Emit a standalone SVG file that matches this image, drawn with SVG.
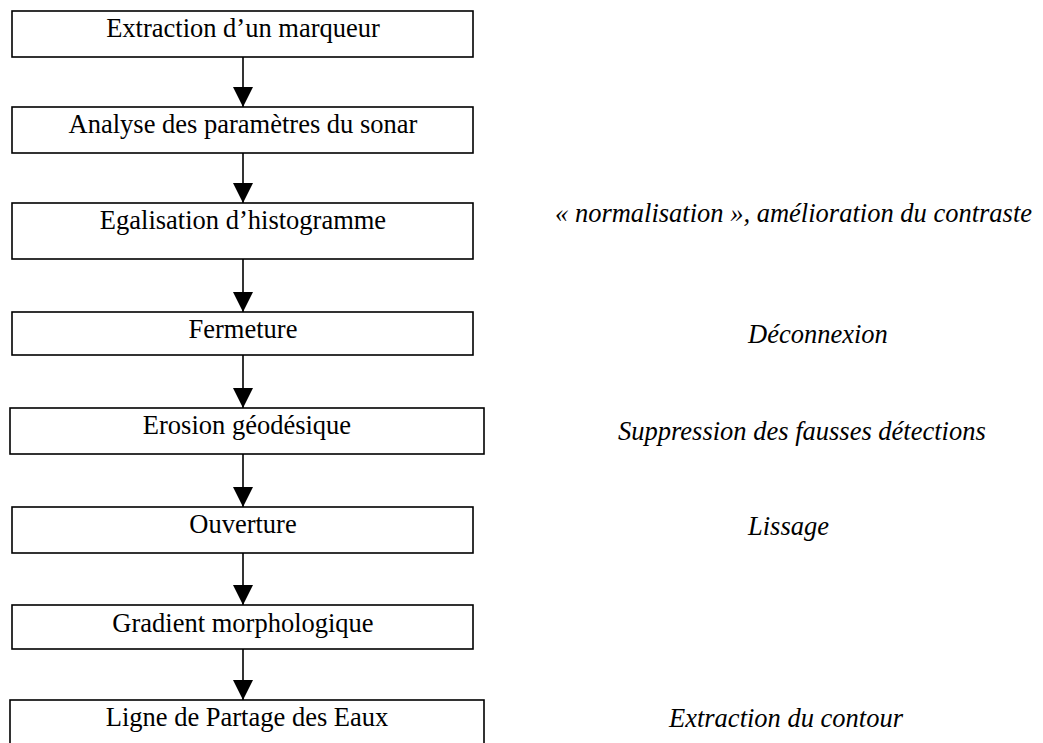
<svg xmlns="http://www.w3.org/2000/svg" width="1043" height="743" viewBox="0 0 1043 743">
<style>
.box{fill:#fff;stroke:#000;stroke-width:1.6}
.t{font-family:'Liberation Serif','Times New Roman',serif;font-size:26.5px;fill:#000;text-anchor:middle}
.n{font-family:'Liberation Serif','Times New Roman',serif;font-size:26.5px;font-style:italic;fill:#000}
.c{stroke:#000;stroke-width:1.6;fill:none}
</style>
<defs>
<marker id="ah" markerUnits="userSpaceOnUse" markerWidth="22" markerHeight="20" refX="20" refY="10" orient="auto">
<path d="M0,0 L20,10 L0,20 Z" fill="#000"/>
</marker>
</defs>
<rect width="1043" height="743" fill="#fff"/>
<g id="connectors">
<line class="c" x1="243" y1="57" x2="243" y2="107" marker-end="url(#ah)"/>
<line class="c" x1="243" y1="153" x2="243" y2="203" marker-end="url(#ah)"/>
<line class="c" x1="243" y1="259" x2="243" y2="312" marker-end="url(#ah)"/>
<line class="c" x1="243" y1="355" x2="243" y2="408" marker-end="url(#ah)"/>
<line class="c" x1="243" y1="454" x2="243" y2="507" marker-end="url(#ah)"/>
<line class="c" x1="243" y1="553" x2="243" y2="605" marker-end="url(#ah)"/>
<line class="c" x1="243" y1="646" x2="243" y2="700" marker-end="url(#ah)"/>
</g>
<g id="n1"><rect class="box" x="12" y="11" width="461" height="46"/><text class="t" x="243" y="37">Extraction d’un marqueur</text></g>
<g id="n2"><rect class="box" x="12" y="107" width="461" height="46"/><text class="t" x="243" y="133">Analyse des paramètres du sonar</text></g>
<g id="n3"><rect class="box" x="12" y="203" width="461" height="56"/><text class="t" x="243" y="229">Egalisation d’histogramme</text></g>
<g id="n4"><rect class="box" x="12" y="312" width="461" height="43"/><text class="t" x="243" y="338">Fermeture</text></g>
<g id="n5"><rect class="box" x="10" y="408" width="474" height="46"/><text class="t" x="247" y="434">Erosion géodésique</text></g>
<g id="n6"><rect class="box" x="12" y="507" width="461" height="46"/><text class="t" x="243" y="533">Ouverture</text></g>
<g id="n7"><rect class="box" x="12" y="605" width="461" height="44"/><text class="t" x="243" y="632">Gradient morphologique</text></g>
<g id="n8"><rect class="box" x="10" y="700" width="474" height="60"/><text class="t" x="247" y="726">Ligne de Partage des Eaux</text></g>
<g id="notes">
<text class="n" x="555" y="222">« normalisation », amélioration du contraste</text>
<text class="n" x="748" y="343">Déconnexion</text>
<text class="n" x="618" y="440">Suppression des fausses détections</text>
<text class="n" x="748" y="535">Lissage</text>
<text class="n" x="669" y="727">Extraction du contour</text>
</g>
</svg>
